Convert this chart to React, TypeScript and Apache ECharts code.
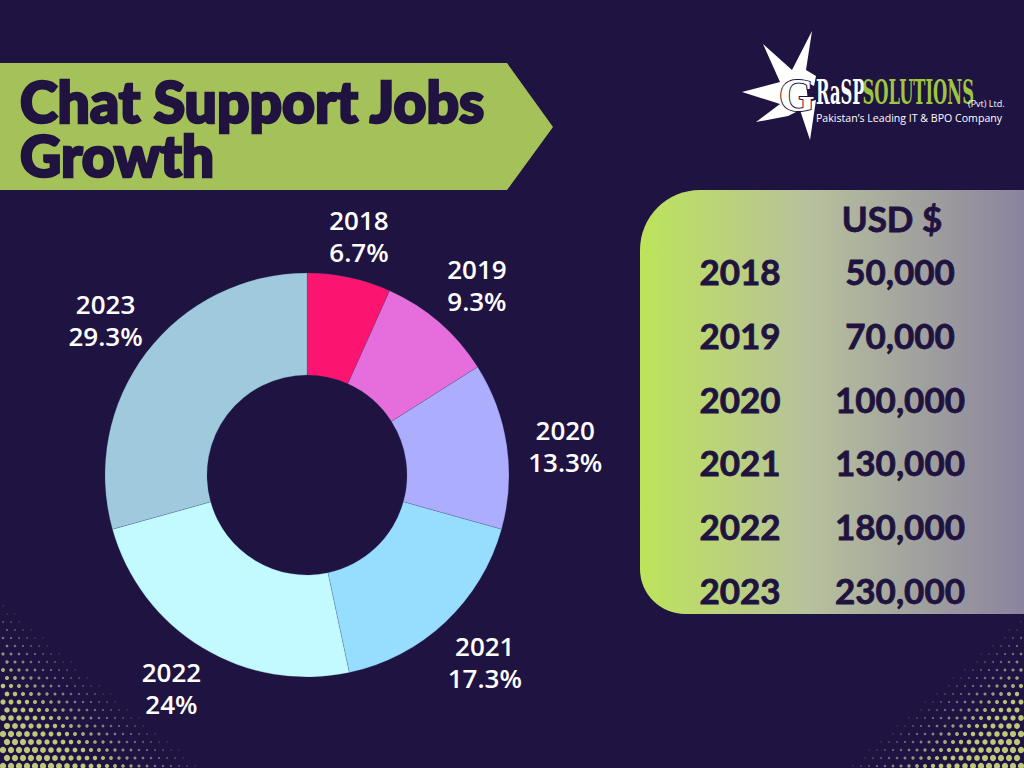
import { useEffect, useRef } from "react";
import * as echarts from "echarts";

const years = ["2018", "2019", "2020", "2021", "2022", "2023"];
const shares = [6.7, 9.3, 13.3, 17.3, 24, 29.3];
const usdValues = [50000, 70000, 100000, 130000, 180000, 230000];
const sliceColors = ["#FB1470", "#E56EDC", "#ADADFE", "#97DDFE", "#C3FAFF", "#9FCADD"];
const titleLines = ["Chat Support Jobs", "Growth"];
const tableHeader = "USD $";

const BG = "#1F1342";
const DARK = "#21133F";

function txt(text: string, x: number, y: number, font: string, fill: string, align = "left", vAlign = "middle", extra: any = {}) {
  const { style: extraStyle, ...rest } = extra;
  return {
    type: "text",
    z: 5,
    ...rest,
    style: {
      text, x, y, font, fill,
      textAlign: align, textVerticalAlign: vAlign,
      align, verticalAlign: vAlign,
      ...(extraStyle || {}),
    },
  };
}

function halftone(left: boolean) {
  const els: any[] = [];
  const green = [190, 199, 122];
  const lilac = [170, 158, 205];
  for (let j = 0; j < 24; j++) {
    const y = 766 - j * 8;
    for (let i = 0; i < 30; i++) {
      const off = (j % 2) * 4;
      const x = left ? 3 + i * 8 + off : 1021 - i * 8 - off;
      const dx = left ? x : 1024 - x;
      const f = left ? 1 - (dx / 205 + (768 - y) / 170) : 1 - (dx / 180 + (768 - y) / 155);
      if (f <= 0.02) continue;
      const r = 0.45 + 2.7 * Math.min(1, f * 1.35);
      const t = Math.min(1, f / 0.45);
      const c = lilac.map((v, k) => Math.round(v + (green[k] - v) * t));
      els.push({
        type: "circle",
        z: 0,
        silent: true,
        shape: { cx: x, cy: y, r },
        style: { fill: `rgb(${c[0]},${c[1]},${c[2]})`, opacity: 0.35 + 0.65 * Math.min(1, f * 2) },
      });
    }
  }
  return els;
}

// small per-label nudges [dx, dy] to match the original placement
const labelNudges = [
  [-2, 11],
  [1, 3],
  [3, 7],
  [1, -3],
  [-2, -10],
  [4, -1],
];

export default function App() {
  const ref = useRef<HTMLDivElement>(null);
  useEffect(() => {
    document.body.style.margin = "0";
    const chart = echarts.init(ref.current!, null, { renderer: "svg" });

    const tableTop = 190;
    const rowY0 = 271;
    const rowStep = 63.8;
    const tableFont = "bold 35px Lato";
    const tStroke = { style: { stroke: DARK, lineWidth: 0.8 } };

    const tableTexts: any[] = [txt(tableHeader, 892, 218, tableFont, DARK, "center", "middle", tStroke)];
    years.forEach((yr, i) => {
      tableTexts.push(txt(yr, 740, rowY0 + i * rowStep, tableFont, DARK, "center", "middle", tStroke));
      tableTexts.push(txt(usdValues[i].toLocaleString("en-US"), 900, rowY0 + i * rowStep, tableFont, DARK, "center", "middle", tStroke));
    });

    const titleStroke = { style: { stroke: DARK, lineWidth: 2.6 } };

    const graphic: any[] = [
      ...halftone(true),
      ...halftone(false),
      {
        type: "polygon",
        z: 1,
        shape: { points: [[0, 63], [507, 63], [553, 127], [507, 190], [0, 190]] },
        style: { fill: "#A5C25A" },
      },
      txt(titleLines[0], 20, 101, "900 57px Lato", DARK, "left", "middle", titleStroke),
      txt(titleLines[1], 20, 155, "900 57px Lato", DARK, "left", "middle", titleStroke),
      {
        type: "rect",
        z: 1,
        shape: { x: 640, y: tableTop, width: 384, height: 424, r: [60, 0, 0, 45] },
        style: {
          fill: new echarts.graphic.LinearGradient(0, 0, 1, 0, [
            { offset: 0, color: "#BDE45A" },
            { offset: 0.45, color: "#B7C09D" },
            { offset: 1, color: "#8B839F" },
          ]),
        },
      },
      ...tableTexts,
      // logo
      {
        type: "polygon",
        z: 3,
        shape: {
          points: [
            [812, 31], [806, 70], [816, 76], [814, 86], [806, 82],
            [808, 102], [816, 100], [810, 140], [800, 110], [788, 116],
            [756, 122], [780, 104], [742, 92], [780, 82], [763, 44], [792, 70],
          ],
        },
        style: { fill: "#FFFFFF" },
      },
      txt("G", 797, 95, "bold 46px 'Liberation Serif'", "#FFFFFF", "center", "middle", {
        style: { stroke: BG, lineWidth: 2 },
      }),
      {
        type: "group",
        z: 5,
        x: 816,
        y: 92,
        scaleX: 0.48,
        children: [
          txt("RaSP", 0, 0, "bold 34px 'DejaVu Serif'", "#FFFFFF", "left", "middle"),
          txt("SOLUTIONS", 97, 0, "bold 34px 'DejaVu Serif'", "#9DC53E", "left", "middle"),
        ],
      },
      txt("(Pvt) Ltd.", 968, 103, "9px 'Open Sans'", "#FFFFFF", "left", "middle"),
      txt("Pakistan\u2019s Leading IT & BPO Company", 816, 118, "10.6px 'Open Sans'", "#FFFFFF", "left", "middle"),
    ];

    const pieData = years.map((y, i) => ({ name: y, value: shares[i], itemStyle: { color: sliceColors[i] } }));

    chart.setOption({
      animation: false,
      backgroundColor: BG,
      graphic,
      series: [
        {
          type: "pie",
          z: 2,
          center: [307, 475],
          radius: [100, 202],
          startAngle: 90,
          clockwise: true,
          silent: true,
          label: { show: false },
          labelLine: { show: false },
          itemStyle: { borderColor: "rgba(60,70,110,0.35)", borderWidth: 0.6 },
          data: pieData,
        },
        {
          type: "pie",
          z: 3,
          center: [307, 477],
          radius: [242, 268],
          startAngle: 90,
          clockwise: true,
          silent: true,
          avoidLabelOverlap: false,
          itemStyle: { color: "rgba(0,0,0,0)" },
          label: {
            show: true,
            position: "inside",
            rotate: 0,
            formatter: "{b}\n{c}%",
            color: "#FFFFFF",
            fontFamily: "Open Sans",
            fontWeight: 600,
            fontSize: 26,
            lineHeight: 32,
            align: "center",
          },
          labelLayout: (p: any) => ({ dx: labelNudges[p.dataIndex][0], dy: labelNudges[p.dataIndex][1] }),
          labelLine: { show: false },
          data: years.map((y, i) => ({ name: y, value: shares[i] })),
        },
      ],
    });
    return () => chart.dispose();
  }, []);
  return <div ref={ref} style={{ width: 1024, height: 768 }} />;
}
